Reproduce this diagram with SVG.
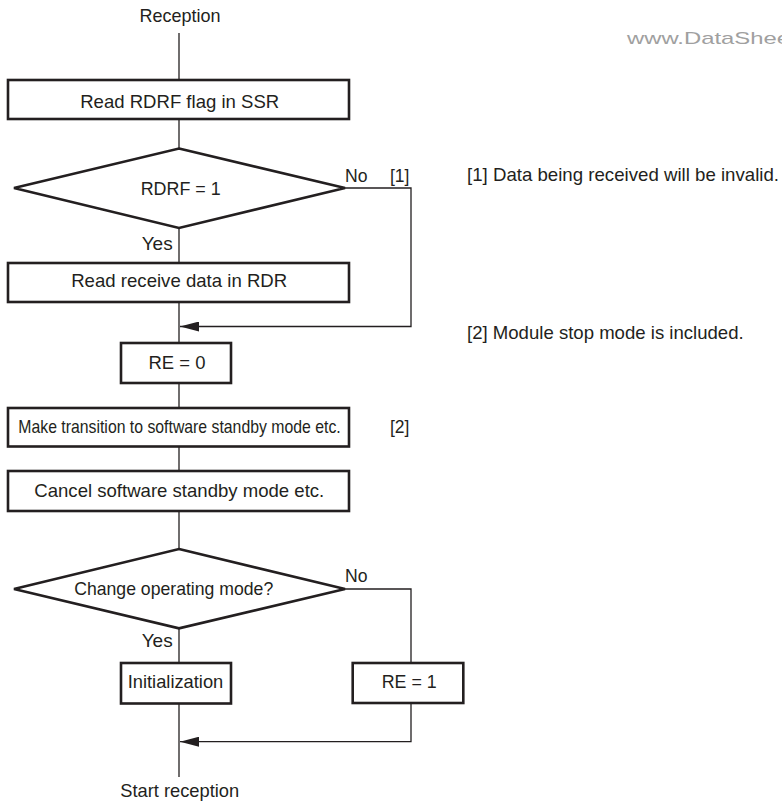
<svg xmlns="http://www.w3.org/2000/svg" width="782" height="803" viewBox="0 0 782 803">
<style>
  .box { fill: #ffffff; stroke: #231f20; stroke-width: 2.6; stroke-linejoin: miter; }
  .ln { fill: none; stroke: #231f20; stroke-width: 1.3; }
  .t { font-family: "Liberation Sans", Arial, sans-serif; font-size: 18.5px; fill: #231f20; }
  .c { text-anchor: middle; }
  .wm { font-family: "Liberation Sans", Arial, sans-serif; font-size: 17px; fill: #a0a0a0; }
</style>
<defs>
  <marker id="ah" viewBox="0 0 19 10" refX="19" refY="5" markerWidth="19" markerHeight="10" markerUnits="userSpaceOnUse" orient="auto">
    <path d="M0,0 L19,5 L0,10 Z" fill="#231f20"/>
  </marker>
</defs>
<rect width="782" height="803" fill="#ffffff"/>

<text class="wm" x="627" y="44" textLength="163" lengthAdjust="spacingAndGlyphs">www.DataShee</text>

<g id="connectors">
  <line class="ln" x1="179" y1="33" x2="179" y2="80"/>
  <line class="ln" x1="179" y1="119" x2="179" y2="148.5"/>
  <line class="ln" x1="179" y1="228" x2="179" y2="263"/>
  <line class="ln" x1="179" y1="302" x2="179" y2="343"/>
  <line class="ln" x1="179" y1="383" x2="179" y2="408"/>
  <line class="ln" x1="179" y1="446" x2="179" y2="471"/>
  <line class="ln" x1="179" y1="511" x2="179" y2="549"/>
  <line class="ln" x1="179" y1="628" x2="179" y2="663"/>
  <line class="ln" x1="179" y1="704" x2="179" y2="777"/>
  <path class="ln" d="M345,188 H411 V326.5 H180" marker-end="url(#ah)"/>
  <path class="ln" d="M345,589 H411 V663"/>
  <path class="ln" d="M411,703 V741.7 H180" marker-end="url(#ah)"/>
  <text class="t" x="345" y="182" textLength="22.5" lengthAdjust="spacingAndGlyphs">No</text>
  <text class="t" x="390" y="182" textLength="19.5" lengthAdjust="spacingAndGlyphs">[1]</text>
  <text class="t" x="141.7" y="250" textLength="31" lengthAdjust="spacingAndGlyphs">Yes</text>
  <text class="t" x="345" y="582" textLength="22.5" lengthAdjust="spacingAndGlyphs">No</text>
  <text class="t" x="141.7" y="646.7" textLength="31" lengthAdjust="spacingAndGlyphs">Yes</text>
</g>

<g id="start">
  <text class="t c" x="180" y="22" textLength="81" lengthAdjust="spacingAndGlyphs">Reception</text>
</g>

<g id="read-rdrf">
  <rect class="box" x="8" y="80" width="341" height="39"/>
  <text class="t c" x="179.7" y="108.3" textLength="199" lengthAdjust="spacingAndGlyphs">Read RDRF flag in SSR</text>
</g>

<g id="rdrf-decision">
  <polygon class="box" points="179,148.5 345,188 179,228 14,188"/>
  <text class="t c" x="180.7" y="195" textLength="80" lengthAdjust="spacingAndGlyphs">RDRF = 1</text>
</g>

<g id="read-rdr">
  <rect class="box" x="8" y="263" width="341" height="39"/>
  <text class="t c" x="179.2" y="287.3" textLength="216" lengthAdjust="spacingAndGlyphs">Read receive data in RDR</text>
</g>

<g id="re0">
  <rect class="box" x="121" y="343" width="110" height="40"/>
  <text class="t c" x="177" y="369.3" textLength="57" lengthAdjust="spacingAndGlyphs">RE = 0</text>
</g>

<g id="transition">
  <rect class="box" x="8" y="408" width="341" height="38.5"/>
  <text class="t" transform="translate(18.3,433.3) scale(0.877,1)" x="0" y="0" style="font-size:18px" textLength="367.6" lengthAdjust="spacingAndGlyphs">Make transition to software standby mode etc.</text>
</g>

<g id="note2-mark">
  <text class="t" x="390" y="433" textLength="19.5" lengthAdjust="spacingAndGlyphs">[2]</text>
</g>

<g id="cancel">
  <rect class="box" x="8" y="471" width="341" height="40"/>
  <text class="t c" x="179.3" y="496.7" textLength="290" lengthAdjust="spacingAndGlyphs">Cancel software standby mode etc.</text>
</g>

<g id="mode-decision">
  <polygon class="box" points="179,549 345,589 179,628.3 14,589"/>
  <text class="t c" x="173.7" y="595" textLength="199" lengthAdjust="spacingAndGlyphs">Change operating mode?</text>
</g>

<g id="init">
  <rect class="box" x="121" y="663" width="110" height="40.5"/>
  <text class="t c" x="175.5" y="688.3" textLength="95.6" lengthAdjust="spacingAndGlyphs">Initialization</text>
</g>

<g id="re1">
  <rect class="box" x="352.7" y="663" width="110.6" height="40"/>
  <text class="t c" x="409.2" y="688.3" textLength="55" lengthAdjust="spacingAndGlyphs">RE = 1</text>
</g>

<g id="end">
  <text class="t c" x="179.7" y="797.3" textLength="119" lengthAdjust="spacingAndGlyphs">Start reception</text>
</g>

<g id="notes">
  <text class="t" x="467" y="181" textLength="312" lengthAdjust="spacingAndGlyphs">[1] Data being received will be invalid.</text>
  <text class="t" x="467" y="339" textLength="276.7" lengthAdjust="spacingAndGlyphs">[2] Module stop mode is included.</text>
</g>
</svg>
